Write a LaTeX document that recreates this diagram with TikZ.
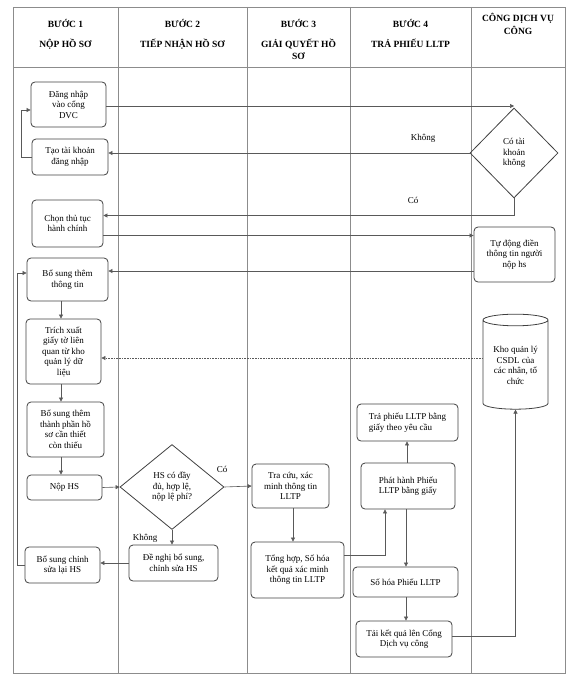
\documentclass[tikz,border=0pt]{standalone}
\usepackage{fontspec}
\setmainfont{Liberation Serif}
\usetikzlibrary{shapes.geometric,arrows.meta}

\begin{document}
\begin{tikzpicture}[x=1pt,y=-1pt,
    box/.style={draw=black!75, line width=0.8pt, rounded corners=4pt, align=center, inner sep=1pt, font=\fontsize{9}{10.5}\selectfont},
    ask/.style={draw=black!75, line width=0.8pt, diamond, aspect=1, inner sep=0pt, align=center, font=\fontsize{9}{10.5}\selectfont},
    head/.style={align=center, anchor=north, font=\bfseries\fontsize{9.5}{12.5}\selectfont},
    lbl/.style={inner sep=1pt, font=\fontsize{9}{10}\selectfont},
    flow/.style={draw=black!65, line width=0.6pt, -{Triangle[length=4pt,width=4pt]}},
    lane/.style={draw=black!45, line width=0.6pt}]
  \useasboundingbox (0,0) rectangle (575,685);
  % lanes
  \draw[lane] (13,7) rectangle (565,673);
  \draw[lane] (13,67.5) -- (565,67.5);
  \foreach \x in {118,247,350,471}
    \draw[lane] (\x,7) -- (\x,673);
  % headings
  \node[head] (h1) at (65.5,16) {BƯỚC 1\\[7pt]NỘP HỒ SƠ};
  \node[head] (h2) at (182.5,16) {BƯỚC 2\\[7pt]TIẾP NHẬN HỒ SƠ};
  \node[head] (h3) at (298.5,16) {BƯỚC 3\\[7pt]GIẢI QUYẾT HỒ\\SƠ};
  \node[head] (h4) at (410.5,16) {BƯỚC 4\\[7pt]TRẢ PHIẾU LLTP};
  \node[head] (h5) at (518,10) {CÔNG DỊCH VỤ\\CÔNG};
  % step 1
  \node[box, minimum width=75pt, minimum height=45pt] (dangnhap) at (68.5,104.5) {Đăng nhập\\vào cổng\\DVC};
  \node[box, minimum width=76pt, minimum height=36pt] (taotk) at (70,157) {Tạo tài khoản\\đăng nhập};
  \node[box, minimum width=71pt, minimum height=47pt] (chontt) at (67.5,223.5) {Chọn thủ tục\\hành chính};
  \node[box, minimum width=81pt, minimum height=43pt] (bsthem) at (67.5,279.5) {Bổ sung thêm\\thông tin};
  \node[box, minimum width=75pt, minimum height=65pt] (trich) at (63.5,351.5) {Trích xuất\\giấy tờ liên\\quan từ kho\\quản lý dữ\\liệu};
  \node[box, minimum width=77pt, minimum height=55pt] (bsthanh) at (65.5,429.5) {Bổ sung thêm\\thành phần hồ\\sơ cần thiết\\còn thiếu};
  \node[box, minimum width=75pt, minimum height=25pt] (nophs) at (64.5,487.5) {Nộp HS};
  \node[box, minimum width=75pt, minimum height=36pt] (bschinh) at (62.5,565) {Bổ sung chỉnh\\sửa lại HS};
  % step 2
  \node[ask, minimum width=104pt, minimum height=85pt] (hsdd) at (172,487) {HS có đầy\\đủ, hợp lệ,\\nộp lệ phí?};
  \node[box, minimum width=89pt, minimum height=36pt] (denghi) at (173.5,563) {Đề nghị bổ sung,\\chỉnh sửa HS};
  % step 3
  \node[box, minimum width=77pt, minimum height=44pt] (tracuu) at (290.5,486) {Tra cứu, xác\\minh thông tin\\LLTP};
  \node[box, minimum width=93pt, minimum height=56pt] (tonghop) at (297.5,570) {Tổng hợp, Số hóa\\kết quả xác minh\\thông tin LLTP};
  % step 4
  \node[box, align=left, minimum width=101pt, minimum height=37pt] (traphieu) at (407.5,422.5) {Trả phiếu LLTP bằng\\giấy theo yêu cầu};
  \node[box, align=left, minimum width=94pt, minimum height=46pt] (phathanh) at (408,486) {Phát hành Phiếu\\LLTP bằng giấy};
  \node[box, minimum width=105pt, minimum height=30pt] (sohoa) at (405.5,582) {Số hóa Phiếu LLTP};
  \node[box, minimum width=96pt, minimum height=36pt] (taikq) at (404,639) {Tải kết quả lên Cổng\\Dịch vụ công};
  % public service portal
  \node[ask, minimum width=88pt, minimum height=90pt] (cotk) at (514,153) {Có tài\\khoản\\không};
  \node[box, minimum width=81pt, minimum height=55pt] (tudong) at (514.5,254.5) {Tự động điền\\thông tin người\\nộp hs};
  \node[draw=black!75, line width=0.8pt, cylinder, shape border rotate=90, aspect=0.25, align=center, inner sep=1pt,
        minimum width=65pt, minimum height=95pt, font=\fontsize{9}{10.5}\selectfont] (kho) at (515.5,365.5) {Kho quản lý\\CSDL của\\các nhân, tổ\\chức};
  % labels
  \node[lbl] (lkhong) at (423,138) {Không};
  \node[lbl] (lco) at (413,200) {Có};
  \node[lbl] (lco2) at (222,469) {Có};
  \node[lbl] (lkhong2) at (145,538) {Không};
  % connectors
  \draw[flow] (taotk.west) -- ++(-10,0) |- (dangnhap.west |- 0,110);
  \draw[flow] (dangnhap.east |- 0,106) -- (cotk.north |- 0,106);
  \draw[flow] (cotk.west) -- (taotk.east |- cotk.west);
  \draw[flow] (cotk.south) |- (chontt.east |- 0,215.5);
  \draw[flow] (chontt.east |- 0,235.5) -- (tudong.west |- 0,235.5);
  \draw[flow] (tudong.west |- 0,271) -- (bsthem.east |- 0,271);
  \draw[flow] (bsthem.south -| 61,0) -- (trich.north -| 61,0);
  \draw[flow, densely dotted] (kho.west |- 0,358) -- (trich.east |- 0,358);
  \draw[flow] (trich.south -| 61,0) -- (bsthanh.north -| 61,0);
  \draw[flow] (bsthanh.south -| 61,0) -- (nophs.north -| 61,0);
  \draw[flow] (nophs.east) -- (hsdd.west);
  \draw[flow] (hsdd.east) -- (tracuu.west);
  \draw[flow] (hsdd.south) -- (denghi.north -| hsdd.south);
  \draw[flow] (denghi.west) -- (bschinh.east |- denghi.west);
  \draw[flow] (bschinh.west) -- ++(-7,0) |- (bsthem.west |- 0,273);
  \draw[flow] (tracuu.south -| 293,0) -- (tonghop.north -| 293,0);
  \draw[flow] (tonghop.east |- 0,555) -| (phathanh.south -| 385,0);
  \draw[flow] (phathanh.north -| 407,0) -- (traphieu.south -| 407,0);
  \draw[flow] (phathanh.south -| 406,0) -- (sohoa.north -| 406,0);
  \draw[flow] (sohoa.south -| 406,0) -- (taikq.north -| 406,0);
  \draw[flow] (taikq.east |- 0,636) -| (kho.south);
\end{tikzpicture}
\end{document}
